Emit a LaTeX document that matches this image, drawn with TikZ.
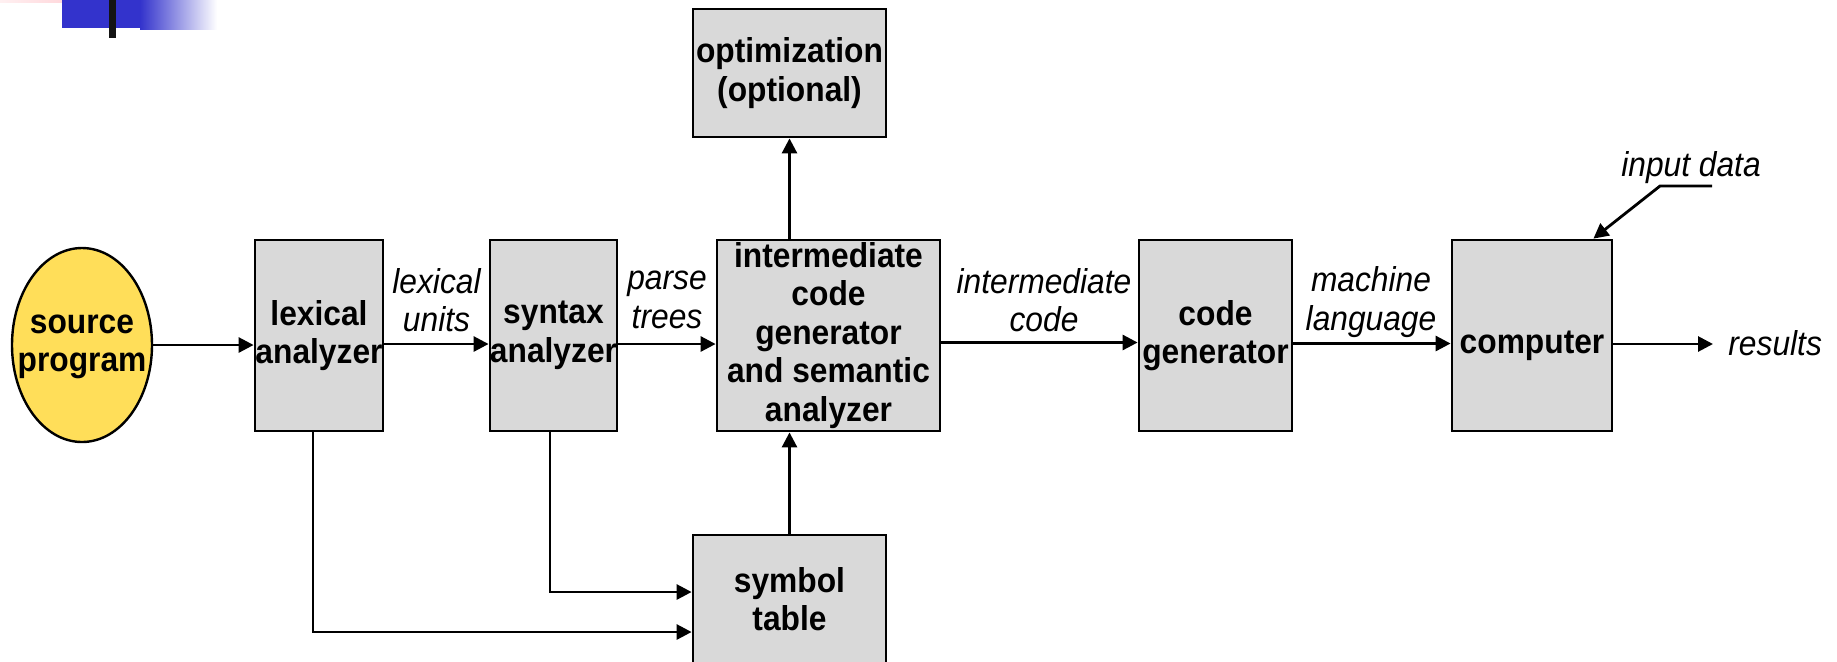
\documentclass[tikz,border=0pt]{standalone}
\usepackage{fontspec}
\setmainfont{Liberation Sans}[FakeStretch=0.92]
\usetikzlibrary{arrows.meta,shapes.geometric}
\definecolor{boxgray}{RGB}{217,217,217}
\definecolor{srcyellow}{RGB}{255,222,89}
\definecolor{barblue}{RGB}{51,51,204}
\definecolor{pinkish}{RGB}{255,205,210}

\begin{document}
\begin{tikzpicture}[x=0.5pt,y=-0.5pt,
  txt/.style={font=\fontsize{17.25}{19.25}\selectfont},
  stage/.style={draw=black, line width=1.4pt, fill=boxgray, minimum height=95.5pt,
    inner xsep=0pt, inner ysep=0pt, align=center,
    font=\fontsize{17.25}{19.25}\selectfont\bfseries},
  flowlbl/.style={align=center, inner sep=0pt,
    font=\fontsize{17.25}{19.25}\selectfont\itshape},
  arr/.style={line width=1.4pt, -{Triangle[length=7.5pt,width=7.5pt]}}
]
\useasboundingbox (0,0) rectangle (1837,661);

% corner ornament
\shade[left color=pinkish!30, right color=pinkish] (0,0) rectangle (94,2.5);
\fill[barblue] (62,0) rectangle (140,28);
\shade[left color=barblue, right color=white] (140,0) rectangle (217,29);
\fill[black!92] (109,0) rectangle (116,38);

% stages
\node[ellipse, draw=black, line width=1.2pt, fill=srcyellow, minimum width=70pt,
  minimum height=97pt, inner sep=0pt, font=\fontsize{17.25}{19.25}\selectfont\bfseries]
  (src) at (82,345) {\makebox[0pt]{\begin{tabular}{@{}c@{}}source\\program\end{tabular}}};
\node[stage, minimum width=64pt] (lex) at (319,335.5) {lexical\\analyzer};
\node[stage, minimum width=63.5pt] (syn) at (553.5,335.5) {syntax\\analyzer};
\node[stage, minimum width=111.5pt] (icg) at (828.5,335.5)
  {intermediate\\code\\generator\\and semantic\\analyzer};
\node[stage, minimum width=96.5pt, minimum height=64pt] (opt) at (789.5,73)
  {optimization\\(optional)};
\node[stage, minimum width=76.5pt] (cg) at (1215.5,335.5) {code\\generator};
\node[stage, minimum width=80pt] (comp) at (1532,335.5)
  {\raisebox{-5pt}[\height][\depth]{computer}};
\node[stage, minimum width=96.5pt, minimum height=64pt] (sym) at (789.5,599)
  {symbol\\table};

% flow labels
\node[flowlbl] (lu) at (436.5,300) {lexical\\units};
\node[flowlbl] (pt) at (667,300) {parse\\trees};
\node[flowlbl] (ic) at (1044,300) {intermediate\\code};
\node[flowlbl] (ml) at (1371,302) {machine\\language};
\node[flowlbl, anchor=west] (res) at (1728,343) {results};
\node[flowlbl] (ind) at (1691,168) {input data};

% main flow
\draw[arr] (src.east) -- (src.east -| lex.west);
\draw[arr] ([yshift=-4.25pt]lex.east) -- ([yshift=-4.25pt]syn.west);
\draw[arr] ([yshift=-4.25pt]syn.east) -- ([yshift=-4.25pt]icg.west);
\draw[arr] ([yshift=-3.5pt]icg.east) -- ([yshift=-3.5pt]cg.west);
\draw[arr] ([yshift=-4pt]cg.east) -- ([yshift=-4pt]comp.west);
\coordinate (resin) at (1713,344);
\draw[arr] (comp.east |- resin) -- (resin);

% side paths
\draw[arr] (opt.south |- icg.north) -- (opt.south);
\draw[arr] (sym.north) -- (sym.north |- icg.south);
\draw[arr] ([xshift=-3pt]lex.south) |- ([yshift=-16.5pt]sym.west);
\draw[arr] ([xshift=-1.75pt]syn.south) |- ([yshift=3.5pt]sym.west);

% input data leader
\coordinate (k1) at (1712,186);
\coordinate (k2) at (1660,186);
\draw[arr] (k1) -- (k2) -- ([xshift=-10pt]comp.north east);
\end{tikzpicture}
\end{document}
